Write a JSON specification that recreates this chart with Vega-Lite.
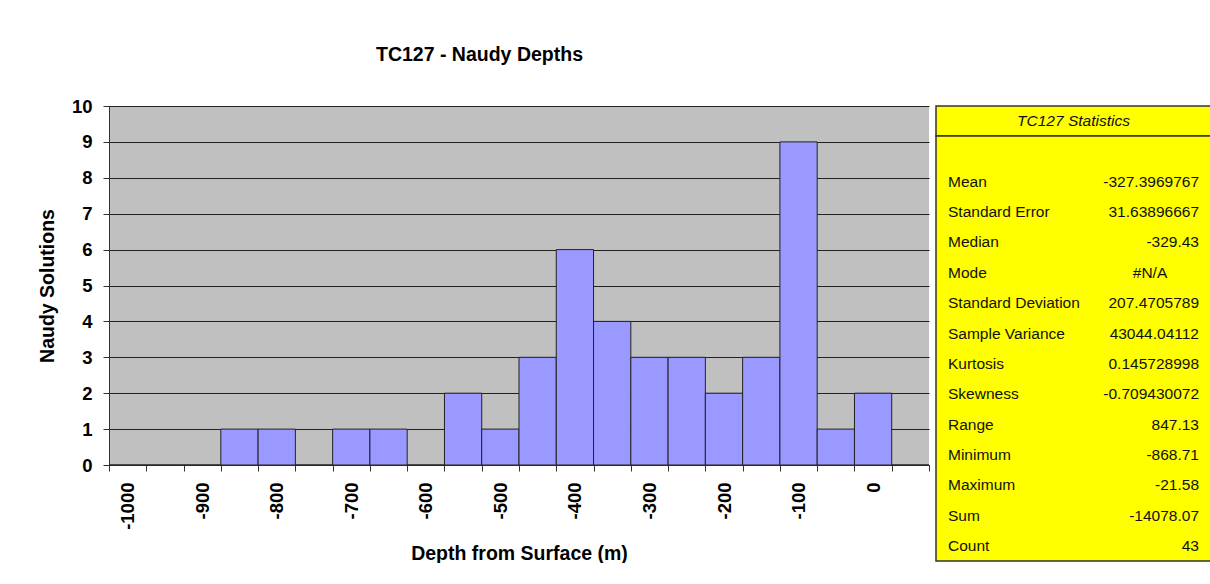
{
  "$schema": "https://vega.github.io/schema/vega-lite/v6.json",
  "background": "white",
  "padding": {"left": 37, "top": 44, "right": 0, "bottom": 0},
  "bounds": "flush",
  "spacing": 7,
  "datasets": {
    "hist": [
      {"bin": -1000, "count": 0},
      {"bin": -950, "count": 0},
      {"bin": -900, "count": 0},
      {"bin": -850, "count": 1},
      {"bin": -800, "count": 1},
      {"bin": -750, "count": 0},
      {"bin": -700, "count": 1},
      {"bin": -650, "count": 1},
      {"bin": -600, "count": 0},
      {"bin": -550, "count": 2},
      {"bin": -500, "count": 1},
      {"bin": -450, "count": 3},
      {"bin": -400, "count": 6},
      {"bin": -350, "count": 4},
      {"bin": -300, "count": 3},
      {"bin": -250, "count": 3},
      {"bin": -200, "count": 2},
      {"bin": -150, "count": 3},
      {"bin": -100, "count": 9},
      {"bin": -50, "count": 1},
      {"bin": 0, "count": 2},
      {"bin": 50, "count": 0}
    ],
    "header": [{"label": "TC127 Statistics"}],
    "stats": [
      {"stat": "Mean", "value": "-327.3969767"},
      {"stat": "Standard Error", "value": "31.63896667"},
      {"stat": "Median", "value": "-329.43"},
      {"stat": "Mode", "value": "#N/A"},
      {"stat": "Standard Deviation", "value": "207.4705789"},
      {"stat": "Sample Variance", "value": "43044.04112"},
      {"stat": "Kurtosis", "value": "0.145728998"},
      {"stat": "Skewness", "value": "-0.709430072"},
      {"stat": "Range", "value": "847.13"},
      {"stat": "Minimum", "value": "-868.71"},
      {"stat": "Maximum", "value": "-21.58"},
      {"stat": "Sum", "value": "-14078.07"},
      {"stat": "Count", "value": "43"}
    ]
  },
  "hconcat": [
    {
      "width": 820,
      "height": 359,
      "view": {"fill": "#C0C0C0", "stroke": null},
      "title": {
        "text": "TC127 - Naudy Depths",
        "fontSize": 19.5,
        "fontWeight": "bold",
        "color": "#000",
        "anchor": "middle",
        "frame": "group",
        "dx": -39.5,
        "baseline": "alphabetic",
        "offset": 17
      },
      "data": {"name": "hist"},
      "mark": {"type": "bar", "fill": "#9999FF", "stroke": "#222", "strokeWidth": 1},
      "encoding": {
        "x": {
          "field": "bin",
          "type": "ordinal",
          "sort": "ascending",
          "scale": {"paddingInner": 0, "paddingOuter": 0},
          "axis": {
            "title": "Depth from Surface (m)",
            "labelAngle": 270,
            "labelExpr": "datum.value % 100 === 0 ? datum.value : ''",
            "labelOverlap": false,
            "labelBound": false,
            "tickBand": "extent",
            "tickSize": 6,
            "labelPadding": 11,
            "titlePadding": 15,
            "grid": false
          }
        },
        "y": {
          "field": "count",
          "type": "quantitative",
          "scale": {"domain": [0, 10], "nice": false},
          "axis": {
            "title": "Naudy Solutions",
            "values": [0, 1, 2, 3, 4, 5, 6, 7, 8, 9, 10],
            "grid": true,
            "gridColor": "#222",
            "gridOpacity": 1,
            "tickSize": 6,
            "labelPadding": 11,
            "titlePadding": 14
          }
        }
      }
    },
    {
      "bounds": "flush",
      "spacing": 0,
      "vconcat": [
        {
          "width": 275,
          "height": 30,
          "view": {"fill": "#FFFF00", "stroke": "#333", "strokeWidth": 1.5},
          "data": {"name": "header"},
          "mark": {"type": "text", "fontSize": 15.5, "fontStyle": "italic", "color": "#111", "align": "center", "baseline": "middle"},
          "encoding": {"text": {"field": "label", "type": "nominal"}}
        },
        {
          "width": 275,
          "height": 425,
          "view": {"fill": "#FFFF00", "stroke": "#333", "strokeWidth": 1.5},
          "data": {"name": "stats"},
          "encoding": {
            "y": {
              "field": "stat",
              "type": "nominal",
              "sort": null,
              "scale": {"type": "point", "padding": 1, "align": 0.754},
              "axis": null
            }
          },
          "layer": [
            {
              "mark": {"type": "text", "align": "left", "baseline": "middle", "fontSize": 15.5, "color": "#111"},
              "encoding": {
                "x": {"datum": "label", "type": "nominal", "scale": {"type": "point", "domain": ["label", "value"], "padding": 0.0478}, "axis": null},
                "text": {"field": "stat", "type": "nominal"}
              }
            },
            {
              "transform": [{"filter": "datum.value !== '#N/A'"}],
              "mark": {"type": "text", "align": "right", "baseline": "middle", "fontSize": 15.5, "color": "#111"},
              "encoding": {
                "x": {"datum": "value", "type": "nominal"},
                "text": {"field": "value", "type": "nominal"}
              }
            },
            {
              "transform": [{"filter": "datum.value === '#N/A'"}],
              "mark": {"type": "text", "align": "center", "baseline": "middle", "fontSize": 15.5, "color": "#111", "dx": -49},
              "encoding": {
                "x": {"datum": "value", "type": "nominal"},
                "text": {"field": "value", "type": "nominal"}
              }
            }
          ]
        }
      ]
    }
  ],
  "config": {
    "font": "Liberation Sans",
    "axis": {
      "labelFont": "Liberation Sans",
      "labelFontSize": 18.5,
      "labelFontWeight": "bold",
      "labelColor": "#000",
      "titleFont": "Liberation Sans",
      "titleFontSize": 19.5,
      "titleFontWeight": "bold",
      "titleColor": "#000",
      "tickColor": "#333",
      "domainColor": "#333",
      "domainWidth": 1
    }
  }
}
